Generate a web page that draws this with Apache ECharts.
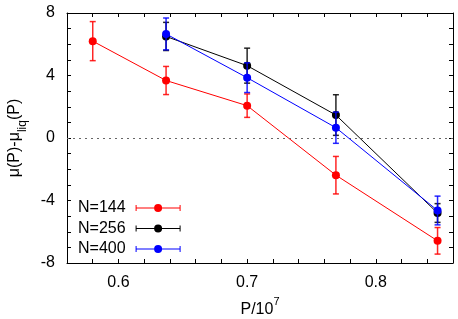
<!DOCTYPE html>
<html><head><meta charset="utf-8">
<script src="https://cdn.jsdelivr.net/npm/echarts@6/dist/echarts.min.js"></script>
<style>html,body{margin:0;padding:0;background:#fff}#c{width:458px;height:319px}</style>
</head><body><div id="c"></div>
<script>
// Data
const names = ['N=144', 'N=256', 'N=400'];
const colors = ['#ff0000', '#000000', '#0000ff'];
const x144 = [0.58, 0.637, 0.70, 0.769, 0.848];
const y144 = [6.2, 3.68, 2.07, -2.38, -6.58];
const e144 = [1.25, 0.9, 0.75, 1.2, 0.85];
const x256 = [0.637, 0.70, 0.769, 0.848];
const y256 = [6.5, 4.63, 1.47, -4.8];
const e256 = [0.9, 1.12, 1.3, 0.6];
const x400 = [0.637, 0.70, 0.769, 0.848];
const y400 = [6.66, 3.86, 0.66, -4.64];
const e400 = [1.02, 0.95, 1.0, 0.92];
const xMajorLabels = [0.6, 0.7, 0.8];
const yMajorLabels = [-8, -4, 0, 4, 8];

const xs = [x144, x256, x400], ys = [y144, y256, y400], es = [e144, e256, e400];
const FONT = "'Liberation Sans', Arial, Helvetica, sans-serif";
const iconPath = 'path://M0,3.5h45v1h-45z M0,1h1v6h-1z M44,1h1v6h-1z M26.5,4a4,4 0 1,1 -8,0a4,4 0 1,1 8,0z';

function errRenderer(color) {
  return function (params, api) {
    const x = api.value(0), y = api.value(1), e = api.value(2);
    const hi = api.coord([x, y + e]), lo = api.coord([x, y - e]);
    const w = 3;
    const st = { stroke: color, lineWidth: 1.5, opacity: 0.85 };
    return { type: 'group', children: [
      { type: 'line', shape: { x1: hi[0], y1: hi[1], x2: lo[0], y2: lo[1] }, style: st },
      { type: 'line', shape: { x1: hi[0] - w, y1: hi[1], x2: hi[0] + w, y2: hi[1] }, style: st },
      { type: 'line', shape: { x1: lo[0] - w, y1: lo[1], x2: lo[0] + w, y2: lo[1] }, style: st }
    ] };
  };
}

const series = [];
for (let i = 0; i < 3; i++) {
  const pts = xs[i].map((x, k) => [x, ys[i][k], es[i][k]]);
  series.push({
    name: 'err' + i, type: 'custom', renderItem: errRenderer(colors[i]),
    data: pts, encode: { x: 0, y: 1 }, z: 2 + i * 2, silent: true
  });
  const s = {
    name: names[i], type: 'line', data: pts.map(p => [p[0], p[1]]),
    symbol: 'circle', symbolSize: 8, z: 3 + i * 2,
    lineStyle: { color: colors[i], width: 1 },
    itemStyle: { color: colors[i] }
  };
  if (i === 0) {
    s.markLine = {
      silent: true, symbol: ['none', 'none'], label: { show: false },
      lineStyle: { color: '#666', type: [2, 4], width: 1 },
      data: [{ yAxis: 0 }]
    };
  }
  series.push(s);
}

const near = (v, arr) => arr.some(a => Math.abs(a - v) < 1e-6);
const axisLine = { show: true, onZero: false, lineStyle: { color: '#000', width: 1 } };

const option = {
  animation: false,
  backgroundColor: '#fff',
  textStyle: { fontFamily: FONT },
  grid: { left: 67, right: 5, top: 13, bottom: 56, containLabel: false, outerBoundsMode: 'none' },
  legend: {
    orient: 'vertical', left: 78, top: 200, align: 'right', padding: 0,
    itemWidth: 45, itemHeight: 8, itemGap: 4.5,
    textStyle: { fontSize: 16, color: '#000', fontFamily: FONT, lineHeight: 16, padding: [0, 5, 0, 0] },
    data: names.map(n => ({ name: n, icon: iconPath }))
  },
  xAxis: [{
    type: 'value', min: 0.56, max: 0.86, interval: 0.02, position: 'bottom',
    name: '{m|P/10}{s|7}', nameLocation: 'middle', nameGap: 33,
    nameTextStyle: { rich: {
      m: { fontSize: 16, color: '#000', fontFamily: FONT, verticalAlign: 'bottom', lineHeight: 22 },
      s: { fontSize: 11, color: '#000', fontFamily: FONT, verticalAlign: 'top', lineHeight: 22 }
    } },
    axisLine: axisLine, splitLine: { show: false },
    axisTick: { inside: true, length: 4, lineStyle: { color: '#000' } },
    axisLabel: { fontSize: 16, color: '#000', margin: 12, fontFamily: FONT,
      formatter: v => near(v, xMajorLabels) ? (Math.round(v * 10) / 10).toString() : '' }
  }, {
    type: 'value', min: 0.56, max: 0.86, interval: 0.02, position: 'top',
    axisLine: axisLine, splitLine: { show: false },
    axisTick: { inside: true, length: 4, lineStyle: { color: '#000' } },
    axisLabel: { show: false }
  }],
  yAxis: [{
    type: 'value', min: -8, max: 8, interval: 1, position: 'left',
    name: '{m|μ(P)-μ}{s|liq}{m|(P)}', nameLocation: 'middle', nameGap: 38,
    nameTextStyle: { rich: {
      m: { fontSize: 16, color: '#000', fontFamily: FONT, verticalAlign: 'top', lineHeight: 22 },
      s: { fontSize: 12, color: '#000', fontFamily: FONT, verticalAlign: 'bottom', lineHeight: 22 }
    } },
    axisLine: axisLine, splitLine: { show: false },
    axisTick: { inside: true, length: 4, lineStyle: { color: '#000' } },
    axisLabel: { fontSize: 16, color: '#000', margin: 12, fontFamily: FONT,
      formatter: v => near(v, yMajorLabels) ? String(v) : '' }
  }, {
    type: 'value', min: -8, max: 8, interval: 1, position: 'right',
    axisLine: axisLine, splitLine: { show: false },
    axisTick: { inside: true, length: 4, lineStyle: { color: '#000' } },
    axisLabel: { show: false }
  }],
  series: series
};
echarts.init(document.getElementById('c'), null, { renderer: 'canvas' }).setOption(option);
</script></body></html>
